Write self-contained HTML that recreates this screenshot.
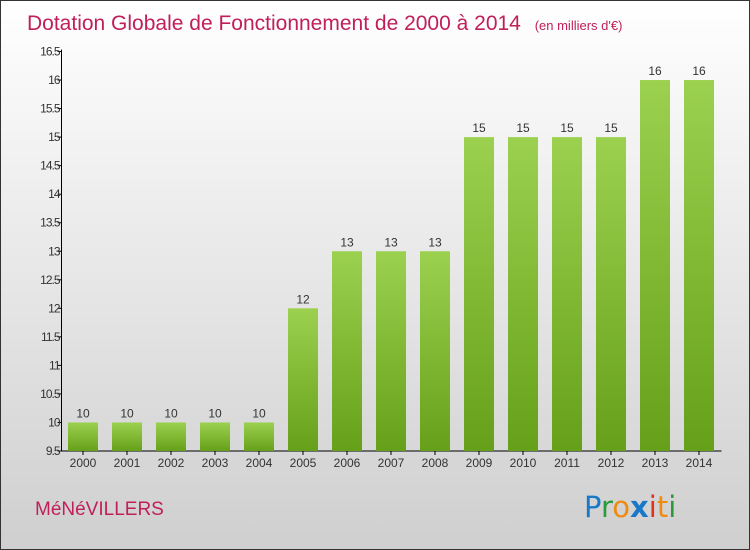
<!DOCTYPE html>
<html><head><meta charset="utf-8">
<style>
body{margin:0;}
#wrap{position:relative;width:750px;height:550px;box-sizing:border-box;border:1px solid #333;background:linear-gradient(#ffffff,#cfcfcf);font-family:"Liberation Sans",sans-serif;overflow:hidden;}
svg{position:absolute;left:0;top:0;}
</style></head>
<body>
<div id="wrap">
<svg id="chart" width="750" height="550">
<defs>
<linearGradient id="bg" x1="0" y1="0" x2="0" y2="1">
<stop offset="0" stop-color="#9bd14f"/><stop offset="1" stop-color="#66a01a"/>
</linearGradient>
</defs>
<text x="26" y="29" font-size="21" fill="#c0205a">Dotation Globale de Fonctionnement de 2000 à 2014 <tspan font-size="13" dx="8">(en milliers d'€)</tspan></text>
<text x="34" y="514" font-size="19" fill="#c0205a">MéNéVILLERS</text>
<g font-size="29" font-family="'DejaVu Sans',sans-serif">
<text x="583" y="516"><tspan fill="#1a78c8">P</tspan><tspan fill="#2a9a3a">r</tspan><tspan fill="#f08a10">o</tspan><tspan fill="#1a78c8" font-weight="bold">x</tspan><tspan fill="#e03020">i</tspan><tspan fill="#f08a10">t</tspan><tspan fill="#2a9a3a">i</tspan></text>
</g>
<g id="axes"></g>
<g id="bars"></g>
</svg>
</div>
<script>
const years=["2000","2001","2002","2003","2004","2005","2006","2007","2008","2009","2010","2011","2012","2013","2014"];
const values=[10,10,10,10,10,12,13,13,13,15,15,15,15,16,16];
const valueLabels=["10","10","10","10","10","12","13","13","13","15","15","15","15","16","16"];
const yTicks=[9.5,10,10.5,11,11.5,12,12.5,13,13.5,14,14.5,15,15.5,16,16.5];
const yTickLabels=["9.5","10","10.5","11","11.5","12","12.5","13","13.5","14","14.5","15","15.5","16","16.5"];

const NS="http://www.w3.org/2000/svg";
const x0=60.5,band=44,yMin=9.5,yMax=16.5,yBot=450,yTop=50.5,barW=30;
const yS=v=>yBot-(v-yMin)/(yMax-yMin)*(yBot-yTop);
const xC=i=>x0+band*i+band/2-0.5;
function mk(t,a,p){const e=document.createElementNS(NS,t);for(const k in a)e.setAttribute(k,a[k]);p.appendChild(e);return e;}
const ax=document.getElementById('axes'),bg=document.getElementById('bars');
const yAxis=mk('line',{x1:x0,y1:yTop-2,x2:x0,y2:yBot,stroke:'#000','stroke-width':1},ax);


const xAxis=mk('line',{x1:x0,y1:yBot,x2:x0+band*years.length,y2:yBot,stroke:'#000','stroke-width':1},ax);


yTicks.forEach((v,i)=>{
  const y=yS(v);
  mk('line',{x1:x0-4,y1:y,x2:x0,y2:y,stroke:'#000'},ax);
  const t=mk('text',{x:x0-2,y:y+4,'font-size':12,'text-anchor':'end',fill:'#333','letter-spacing':'-1'},ax);
  t.textContent=yTickLabels[i];
  
  
});
years.forEach((yr,i)=>{
  const c=xC(i);
  mk('line',{x1:c,y1:yBot,x2:c,y2:yBot+4,stroke:'#000'},ax);
  const t=mk('text',{x:c,y:yBot+16,'font-size':12,'text-anchor':'middle',fill:'#333'},ax);
  t.textContent=yr;
  
  
  const yt=yS(values[i]);
  const r=mk('rect',{x:c-barW/2,y:yt,width:barW,height:yBot-yt,fill:'url(#bg)'},bg);
  
  
  const l=mk('text',{x:c,y:yt-5,'font-size':12,'text-anchor':'middle',fill:'#333'},bg);
  l.textContent=valueLabels[i];
  
  
});
</script>
</body></html>
